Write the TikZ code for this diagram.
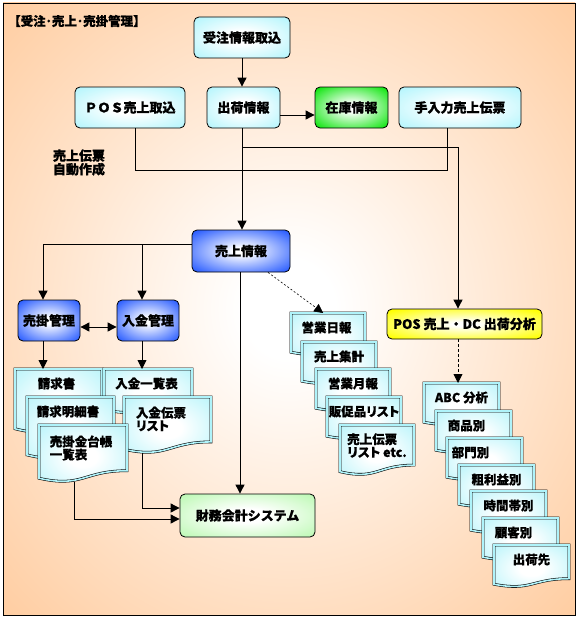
\documentclass[tikz,border=0pt]{standalone}
\usepackage{fontspec}
\setmainfont{Noto Sans CJK JP}[BoldFeatures={FakeBold=0.6}]
\newfontfamily\jpp{Noto Sans CJK JP}[RawFeature=+palt,BoldFeatures={FakeBold=0.6}]
\usetikzlibrary{arrows.meta,calc}

\definecolor{peach}{RGB}{255,198,148}
\definecolor{boxcyan}{RGB}{170,244,252}
\definecolor{boxblue}{RGB}{45,95,255}
\definecolor{boxgreen}{RGB}{20,230,20}
\definecolor{boxyellow}{RGB}{255,255,0}
\definecolor{boxlgreen}{RGB}{180,248,170}
\definecolor{doccyan}{RGB}{175,243,250}

\pgfdeclareradialshading{bgshade}{\pgfpointorigin}{color(0bp)=(white); color(4bp)=(white); color(40bp)=(peach); color(75bp)=(peach)}
\pgfdeclareradialshading{gcyan}{\pgfpointorigin}{color(0bp)=(white); color(8bp)=(white); color(38bp)=(boxcyan); color(75bp)=(boxcyan)}
\pgfdeclareradialshading{gblue}{\pgfpointorigin}{color(0bp)=(white); color(4bp)=(white); color(33bp)=(boxblue); color(75bp)=(boxblue)}
\pgfdeclareradialshading{ggreen}{\pgfpointorigin}{color(0bp)=(white); color(5bp)=(white); color(33bp)=(boxgreen); color(75bp)=(boxgreen)}
\pgfdeclareradialshading{gyellow}{\pgfpointorigin}{color(0bp)=(white); color(4bp)=(white); color(33bp)=(boxyellow); color(75bp)=(boxyellow)}
\pgfdeclareradialshading{glgreen}{\pgfpointorigin}{color(0bp)=(white); color(8bp)=(white); color(38bp)=(boxlgreen); color(75bp)=(boxlgreen)}
\pgfdeclareradialshading{gdoc}{\pgfpointorigin}{color(0bp)=(white); color(8bp)=(white); color(40bp)=(doccyan); color(75bp)=(doccyan)}

\tikzset{
  box/.style={rounded corners=5pt, draw=black, line width=0.8pt, minimum height=41pt,
    inner sep=0pt, font=\bfseries\fontsize{13}{15}\selectfont, shade},
  cbox/.style={box, shading=gcyan},
  bbox/.style={box, shading=gblue},
  gbox/.style={box, shading=ggreen},
  ybox/.style={box, shading=gyellow},
  lgbox/.style={box, shading=glgreen},
  docshape/.style={draw=black, line width=0.55pt, double=doccyan, double distance=1.6pt,
    shade, shading=gdoc, line join=miter},
  doctext/.style={font=\bfseries\fontsize{12.5}{13}\selectfont, inner sep=0pt, align=left},
  arr/.style={-{Triangle[length=9pt,width=9pt]}, line width=0.9pt},
  dblarr/.style={{Triangle[length=9pt,width=9pt]}-{Triangle[length=9pt,width=9pt]}, line width=0.9pt},
  plain/.style={line width=0.9pt},
}

\newcommand\mydoc[7][]{%
  \pgfmathsetmacro\dxa{#3+#5}%
  \pgfmathsetmacro\dxm{#3+0.5*#5}%
  \pgfmathsetmacro\dya{#4+0.802*#6}%
  \pgfmathsetmacro\dyb{#4+1.107*#6}%
  \pgfmathsetmacro\dyc{#4+0.934*#6}%
  \pgfmathsetmacro\dyt{#4+14.5}%
  \pgfmathsetmacro\dhh{0.985*#6}%
  \path[docshape] (#3,#4) -- (\dxa,#4) -- (\dxa,\dya) .. controls (\dxm,\dya) and (\dxm,\dyb) .. (#3,\dyc) -- cycle;
  \node[anchor=north west, inner sep=0pt, minimum width=#5pt, minimum height=\dhh pt] (#2) at (#3,#4) {};
  \node[doctext,#1] (#2-t) at (\dxm,\dyt) {#7};
}

\begin{document}
\begin{tikzpicture}[x=1pt,y=-1pt]
\useasboundingbox (0,0) rectangle (578,618);
\path[shade, shading=bgshade, draw=black, line width=0.8pt] (3,3) rectangle (575,615);

\node[anchor=west, inner sep=0pt, font=\bfseries\fontsize{12.5}{14}\selectfont] (title) at (8,21) {【受注･売上･売掛管理】};

% boxes
\node[cbox, minimum width=96pt] (juchu) at (242,37.5) {受注情報取込};
\node[cbox, minimum width=73pt] (shukka) at (243.5,107.5) {出荷情報};
\node[gbox, minimum width=73pt] (zaiko) at (351.5,107.5) {在庫情報};
\node[cbox, minimum width=122pt] (tenyu) at (460,107.5) {手入力売上伝票};
\node[cbox, minimum width=110pt] (postori) at (130,107.5) {ＰＯＳ売上取込};
\node[bbox, minimum width=98pt, minimum height=42pt] (uriage) at (241,251) {売上情報};
\node[bbox, minimum width=62pt] (urikake) at (49,320.5) {売掛管理};
\node[bbox, minimum width=62pt] (nyukin) at (148,320.5) {入金管理};
\node[ybox, minimum width=155pt, minimum height=30pt] (posbun) at (464.5,324) {POS 売上・DC 出荷分析};
\node[lgbox, minimum width=135pt, minimum height=43pt] (zaimu) at (247.5,515.5) {財務会計システム};

\node[inner sep=0pt, align=center, font=\bfseries\fontsize{13}{11.5}\selectfont] (jido) at (79,162.5) {売上伝票\\自動作成};

% left document stacks
\mydoc[xshift=-2pt]{seikyu}{15}{369}{87}{64}{請求書}
\mydoc[xshift=-1.5pt]{nyuichi}{104}{369}{88}{44}{入金一覧表}
\mydoc[xshift=-2.5pt]{seimei}{27}{397}{87}{62}{請求明細書}
\mydoc[xshift=-6.5pt,yshift=-7.5pt]{nyuden}{124}{397}{87}{56}{入金伝票\\{\jpp リスト}}
\mydoc[xshift=-2pt,yshift=-8.5pt]{urikin}{39}{425}{88}{57}{売掛金台帳\\一覧表}

% middle stack
\mydoc[xshift=-1.5pt]{eigyo}{291}{313}{74}{42}{営業日報}
\mydoc{shukei}{302}{342}{74}{42}{売上集計}
\mydoc{getsu}{316}{369}{74}{42}{営業月報}
\mydoc{hansoku}{327}{397}{74}{42}{\jpp 販促品リスト}
\mydoc[yshift=-6pt]{urilist}{340}{425}{74}{50}{売上伝票\\{\jpp リスト etc.}}

% right stack
\mydoc{abc}{424}{383}{75}{42}{ABC 分析}
\mydoc[xshift=-7pt]{shohin}{436}{411}{75}{42}{商品別}
\mydoc[xshift=-14pt]{bumon}{447}{438}{75}{42}{部門別}
\mydoc{arari}{459}{465}{75}{42}{粗利益別}
\mydoc{jikan}{471}{491}{75}{42}{時間帯別}
\mydoc[xshift=-7pt]{kokyaku}{483}{518}{75}{42}{顧客別}
\mydoc{shukkasaki}{494}{545}{75}{42}{出荷先}

% connectors
\draw[arr] (juchu.south) -- (juchu.south |- shukka.north);
\draw[arr] ([yshift=-7.5pt]shukka.east) -- ([yshift=-7.5pt]zaiko.west);
\coordinate (sv) at ([xshift=-1.5pt]shukka.south);
\draw[arr] (sv) -- (sv |- uriage.north);
\coordinate (ps) at ([xshift=5pt]postori.south);
\coordinate (ts) at ([xshift=-13pt]tenyu.south);
\coordinate (jl) at ([yshift=-42pt]ts);
\draw[plain] (ps) |- (jl) -- (ts);
\coordinate (jr) at ([yshift=-19pt]sv);
\coordinate (pn) at ([xshift=-6.5pt]posbun.north);
\draw[arr] (jr) -| (pn);

\coordinate (uw) at ([yshift=7pt]uriage.west);
\coordinate (kn) at ([xshift=-6pt]urikake.north);
\coordinate (nn) at ([xshift=-6pt]nyukin.north);
\draw[arr] (uw) -| (kn);
\draw[arr] (nn |- uw) -- (nn);
\draw[dblarr] ([yshift=-6.5pt]urikake.east) -- ([yshift=-6.5pt]nyukin.west);
\coordinate (ks) at ([xshift=-6pt]urikake.south);
\coordinate (ns) at ([xshift=-6pt]nyukin.south);
\draw[arr] (ks) -- (ks |- seikyu.north);
\draw[arr] (ns) -- (ns |- nyuichi.north);

\coordinate (us) at ([xshift=-1pt]uriage.south);
\draw[arr] (us) -- (us |- zaimu.north);
\draw[-{Triangle[length=9pt,width=9pt]}, line width=0.6pt, dash pattern=on 2pt off 2pt] ([xshift=27pt]uriage.south) -- ([xshift=-5pt]eigyo.north);

\coordinate (nds) at ([xshift=-25.5pt]nyuden.south);
\draw[arr] (nds) |- ([yshift=7.5pt]zaimu.west);
\coordinate (uks) at ([xshift=-9pt]urikin.south);
\draw[arr] (uks) |- ([yshift=-3.5pt]zaimu.west);

\coordinate (pbs) at ([xshift=-6.5pt]posbun.south);
\draw[arr, dash pattern=on 3pt off 2pt] (pbs) -- (pbs |- abc.north);
\end{tikzpicture}
\end{document}
